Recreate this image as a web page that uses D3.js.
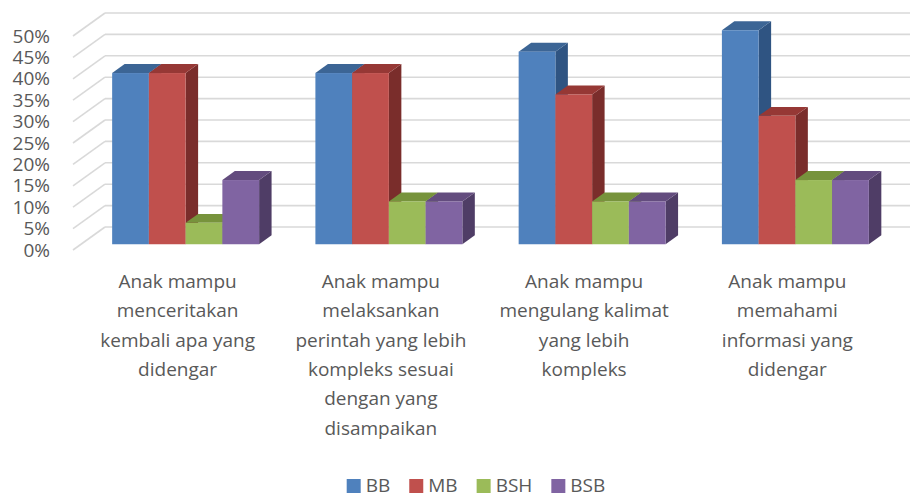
<!DOCTYPE html>
<html>
<head>
<meta charset="utf-8">
<script src="https://cdn.jsdelivr.net/npm/d3@7"></script>
<style>
  body { margin: 0; background: #fff; }
  text { font-family: "Open Sans", "Liberation Sans", sans-serif; fill: #595959; }
</style>
</head>
<body>
<svg id="chart" width="910" height="497"></svg>
<script>
// data
var categories = [
  ["Anak mampu", "menceritakan", "kembali apa yang", "didengar"],
  ["Anak mampu", "melaksankan", "perintah yang lebih", "kompleks sesuai", "dengan yang", "disampaikan"],
  ["Anak mampu", "mengulang kalimat", "yang lebih", "kompleks"],
  ["Anak mampu", "memahami", "informasi yang", "didengar"]
];
var seriesNames = ["BB", "MB", "BSH", "BSB"];
var bb  = [0.40, 0.40, 0.45, 0.50];
var mb  = [0.40, 0.40, 0.35, 0.30];
var bsh = [0.05, 0.10, 0.10, 0.15];
var bsb = [0.15, 0.10, 0.10, 0.15];
var yTicks = [0, 0.05, 0.10, 0.15, 0.20, 0.25, 0.30, 0.35, 0.40, 0.45, 0.50];

var seriesValues = [bb, mb, bsh, bsb];
var colors = {
  BB:  { front: "#4F81BD", top: "#3C6595", side: "#2F5482" },
  MB:  { front: "#C0504D", top: "#963835", side: "#7A2D2B" },
  BSH: { front: "#9BBB59", top: "#77933C", side: "#5F7631" },
  BSB: { front: "#8064A2", top: "#634C7E", side: "#4F3D66" }
};

var svg = d3.select("#chart");

// oblique "3d" projection: depth vector
var DX = 32, DY = -23;
var d0 = 0.25, d1 = 0.64;   // bar depth range (fraction of floor depth)

var catIdx = d3.range(categories.length);
var x = d3.scaleBand()
  .domain(catIdx)
  .range([76, 889])
  .paddingInner(0.277)
  .paddingOuter(0.1385);
var xs = d3.scaleBand()
  .domain(seriesNames)
  .range([0, x.bandwidth()]);
var y = d3.scaleLinear().domain([0, 0.5]).range([250, 36]);

var leftX = 73;

// back wall gridlines + side wall diagonals
var grid = svg.append("g");
yTicks.forEach(function (t) {
  grid.append("line")
    .attr("x1", leftX + DX).attr("x2", 915)
    .attr("y1", y(t) + DY).attr("y2", y(t) + DY)
    .attr("stroke", "#D9D9D9").attr("stroke-width", 1.6);
  grid.append("line")
    .attr("x1", leftX).attr("x2", leftX + DX)
    .attr("y1", y(t)).attr("y2", y(t) + DY)
    .attr("stroke", "#D9D9D9").attr("stroke-width", 1.6);
});

// y axis labels
var yAxis = d3.axisLeft(y)
  .tickValues(yTicks)
  .tickFormat(d3.format(".0%"))
  .tickSize(0)
  .tickPadding(23);
var ya = svg.append("g").attr("transform", "translate(" + leftX + ",0)").call(yAxis);
ya.select(".domain").remove();
ya.selectAll("text")
  .style("font-size", "19px")
  .style("font-family", "'Open Sans', sans-serif")
  .attr("fill", "#595959");

// bars
var bars = [];
catIdx.forEach(function (c) {
  seriesNames.forEach(function (s, si) {
    bars.push({ c: c, s: s, v: seriesValues[si][c] });
  });
});

function pt(px, py, d) { return [px + d * DX, py + d * DY]; }

var bg = svg.append("g");
bars.forEach(function (b) {
  var xl = x(b.c) + xs(b.s), xr = xl + xs.bandwidth();
  var yt = y(b.v), yb = y(0);
  var col = colors[b.s];
  var g = bg.append("g");
  // right side
  g.append("polygon")
    .attr("points", [pt(xr, yt, d0), pt(xr, yt, d1), pt(xr, yb, d1), pt(xr, yb, d0)].join(" "))
    .attr("fill", col.side);
  // top
  g.append("polygon")
    .attr("points", [pt(xl, yt, d0), pt(xl, yt, d1), pt(xr, yt, d1), pt(xr, yt, d0)].join(" "))
    .attr("fill", col.top);
  // front
  var f0 = pt(xl, yt, d0), f1 = pt(xr, yb, d0);
  g.append("rect")
    .attr("x", f0[0]).attr("y", f0[1])
    .attr("width", f1[0] - f0[0]).attr("height", f1[1] - f0[1])
    .attr("fill", col.front);
});

// category labels
var lab = svg.append("g");
categories.forEach(function (lines, c) {
  var t = lab.append("text")
    .attr("x", x(c) + x.bandwidth() / 2)
    .attr("y", 288)
    .attr("text-anchor", "middle")
    .style("font-size", "19px");
  lines.forEach(function (ln, i) {
    t.append("tspan")
      .attr("x", x(c) + x.bandwidth() / 2)
      .attr("y", 288 + i * 29.3)
      .text(ln);
  });
});

// legend
var leg = svg.append("g");
var lx = 0;
seriesNames.forEach(function (s) {
  var item = leg.append("g").attr("transform", "translate(" + lx + ",0)");
  item.append("rect").attr("x", 0).attr("y", 479).attr("width", 14).attr("height", 14)
    .attr("fill", colors[s].front);
  var tx = item.append("text").attr("x", 19).attr("y", 492)
    .style("font-size", "19px").text(s);
  lx += 19 + tx.node().getComputedTextLength() + 19;
});
var legW = lx - 19;
leg.attr("transform", "translate(" + (476 - legW / 2) + ",0)");
</script>
</body>
</html>
